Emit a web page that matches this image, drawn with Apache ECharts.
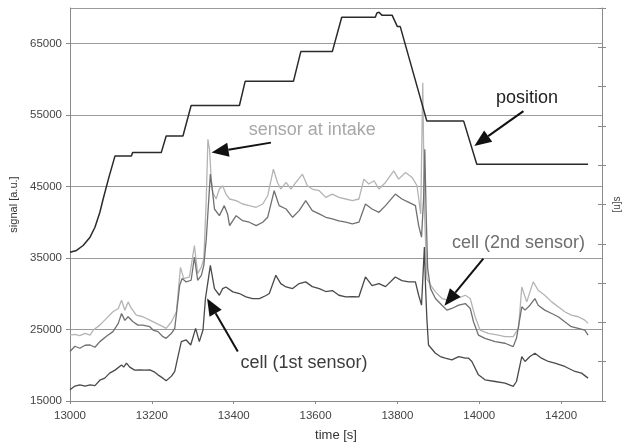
<!DOCTYPE html>
<html>
<head>
<meta charset="utf-8">
<script src="https://cdn.jsdelivr.net/npm/echarts/dist/echarts.min.js"></script>
<style>html,body{margin:0;padding:0;background:#fff}#c{width:630px;height:447px}</style>
</head>
<body>
<div id="c"></div>
<script>
// ---- data (time [s], signal [a.u.]) ----
const positionData = [[13000,35830],[13016,36070],[13032,36760],[13049,37930],[13061,39320],[13073,41410],[13081,43270],[13095,46300],[13110,49300],[13150,49300],[13153,49760],[13223,49760],[13235,52080],[13276,52080],[13296,56350],[13414,56350],[13428,59740],[13546,59740],[13564,63900],[13641,63900],[13664,68700],[13746,68700],[13750,69300],[13755,69400],[13762,69000],[13787,69000],[13800,67400],[13807,67400],[13872,54170],[13962,54170],[13994,48140],[14266,48140]];

const intakeData = [[13000,24230],[13012,24330],[13024,24150],[13037,24470],[13049,24230],[13057,24930],[13073,25620],[13089,26560],[13105,27490],[13118,27950],[13126,29100],[13134,27710],[13142,28870],[13150,27950],[13162,27020],[13178,26790],[13195,26320],[13211,25860],[13227,25400],[13235,25160],[13248,26090],[13260,27490],[13270,33700],[13278,32130],[13292,32360],[13304,36760],[13312,32820],[13321,33760],[13327,34910],[13333,43270],[13337,51620],[13341,50230],[13345,46050],[13349,44190],[13357,43270],[13365,44660],[13373,45120],[13381,43960],[13390,43270],[13406,43040],[13422,42570],[13438,42340],[13455,42110],[13471,42570],[13483,43720],[13497,47440],[13507,45590],[13515,44660],[13528,45590],[13540,44660],[13552,45590],[13568,46750],[13580,45120],[13592,44660],[13609,44430],[13625,43500],[13641,43960],[13657,43500],[13674,43270],[13690,43040],[13706,43270],[13718,46050],[13730,45360],[13743,45820],[13755,44660],[13771,45590],[13791,47210],[13803,46050],[13820,46980],[13836,46290],[13848,45120],[13857,41180],[13862,59550],[13866,42000],[13872,32130],[13881,31200],[13893,30270],[13909,29340],[13925,29100],[13941,29340],[13958,29620],[13966,29800],[13978,29340],[13990,26790],[14002,24930],[14022,24470],[14047,24230],[14063,24000],[14083,24000],[14096,25160],[14104,30960],[14116,28870],[14132,31670],[14144,30500],[14160,29800],[14177,28870],[14193,28180],[14209,27490],[14225,27020],[14242,26790],[14258,26320],[14266,25860]];

const cell2Data = [[13000,21920],[13012,22660],[13024,22380],[13037,22800],[13049,22840],[13061,22520],[13073,23310],[13089,24050],[13105,24710],[13118,25860],[13126,27250],[13134,26280],[13142,26790],[13154,26090],[13166,25620],[13178,25620],[13195,25400],[13203,24930],[13215,24710],[13227,24000],[13235,23770],[13248,24470],[13256,25160],[13268,31200],[13274,32130],[13284,31670],[13296,31900],[13304,35150],[13312,31900],[13321,32590],[13327,33980],[13333,37700],[13343,46750],[13349,43960],[13353,41870],[13365,40940],[13377,42340],[13385,41180],[13390,39550],[13406,40940],[13422,40240],[13438,40020],[13455,39550],[13471,40020],[13483,40710],[13499,44430],[13511,42340],[13528,41870],[13544,40710],[13560,41640],[13576,43040],[13592,41640],[13609,41180],[13625,40710],[13641,40480],[13657,40200],[13674,40020],[13690,39780],[13706,40020],[13722,42570],[13738,41870],[13755,41410],[13771,42340],[13795,43960],[13811,43270],[13828,42800],[13844,42340],[13852,39550],[13859,37930],[13864,43270],[13867,50230],[13870,41870],[13874,33520],[13881,30730],[13893,29340],[13909,28410],[13921,27720],[13933,27950],[13950,28410],[13966,28640],[13978,27950],[13986,26090],[13998,24230],[14014,23770],[14039,23310],[14063,23080],[14083,22610],[14091,23770],[14104,28180],[14112,27720],[14124,28410],[14136,29340],[14144,28410],[14160,27720],[14177,27250],[14193,26790],[14209,26090],[14225,25400],[14242,25160],[14258,24930],[14266,24230]];

const cell1Data = [[13000,16570],[13012,17090],[13024,17270],[13037,17090],[13049,17270],[13061,17160],[13073,17910],[13085,18200],[13097,18900],[13110,19320],[13126,20050],[13131,19740],[13138,20290],[13146,19740],[13158,19320],[13170,19360],[13183,19320],[13195,19360],[13207,19040],[13215,18660],[13227,18200],[13235,17830],[13248,18480],[13256,19140],[13263,20990],[13272,23310],[13284,23540],[13295,22840],[13307,25160],[13316,23310],[13325,24930],[13331,29340],[13343,33980],[13353,30730],[13365,29800],[13373,30730],[13381,30960],[13398,30270],[13414,30040],[13430,29580],[13446,29340],[13463,29340],[13479,29760],[13487,30040],[13503,32590],[13515,31430],[13528,30960],[13544,30730],[13560,31430],[13576,31670],[13592,31010],[13609,30730],[13625,30320],[13641,30460],[13657,29800],[13674,29580],[13690,29620],[13706,29580],[13722,32360],[13738,31150],[13755,31430],[13771,31010],[13795,32360],[13811,31850],[13828,31670],[13844,31670],[13852,29800],[13859,28410],[13866,36540],[13869,30730],[13872,26560],[13876,22840],[13893,21680],[13905,21220],[13917,20990],[13933,20750],[13950,21220],[13966,20990],[13974,20990],[13982,20530],[13998,18660],[14014,17960],[14039,17730],[14063,17510],[14083,17040],[14091,17730],[14104,21220],[14112,20530],[14124,21220],[14136,21680],[14152,20990],[14169,20530],[14185,20290],[14209,19830],[14234,19130],[14250,18900],[14266,18200]];

// annotation texts with anchor points in data space
const labelTexts = ['sensor at intake', 'position', 'cell (2nd sensor)', 'cell (1st sensor)'];
const labelAt   = [[13592,52870],[14117,57470],[14096,37140],[13572,20290]];
const arrowFrom = [[13491,51160],[14108,55560],[14010,34910],[13410,21920]];
const arrowTo   = [[13346,49770],[13988,50690],[13915,28330],[13335,29340]];
const labelColors = ['#a8a8a8','#222222','#6e6e6e','#3c3c3c'];

const FONT = 'Liberation Sans, Arial, sans-serif';
const plain = v => String(v);
const chart = echarts.init(document.getElementById('c'));
const axisGray = '#8a8a8a';
chart.setOption({
  animation: false,
  backgroundColor: '#ffffff',
  grid: {left: 70, right: 26, top: 8, bottom: 44},
  xAxis: {
    type: 'value', min: 13000, max: 14300, interval: 200,
    name: 'time [s]', nameLocation: 'middle', nameGap: 28,
    nameTextStyle: {fontFamily: FONT, fontSize: 13, color: '#333'},
    axisLine: {lineStyle: {color: axisGray}},
    axisTick: {length: 3, lineStyle: {color: axisGray}},
    axisLabel: {showMaxLabel: false, formatter: plain, fontFamily: FONT, fontSize: 11.5, color: '#444', margin: 9},
    splitLine: {show: false}
  },
  yAxis: [{
    type: 'value', min: 15000, max: 70000, interval: 10000,
    name: 'signal [a.u.]', nameLocation: 'middle', nameRotate: 90, nameGap: 39,
    nameTextStyle: {fontFamily: FONT, fontSize: 11, color: '#333'},
    axisLine: {show: true, lineStyle: {color: axisGray}},
    axisTick: {show: true, length: 4, lineStyle: {color: axisGray}},
    axisLabel: {showMaxLabel: false, formatter: plain, fontFamily: FONT, fontSize: 11.5, color: '#444', margin: 8},
    splitLine: {show: true, lineStyle: {color: '#9a9a9a', width: 1}}
  }, {
    type: 'value', position: 'right', min: 0, max: 10, interval: 1,
    name: '[u]s', nameLocation: 'middle', nameRotate: 90, nameGap: 10,
    nameTextStyle: {fontFamily: FONT, fontSize: 10, color: '#444'},
    axisLine: {show: true, lineStyle: {color: axisGray}},
    axisTick: {show: true, length: 4, lineStyle: {color: axisGray}},
    axisLabel: {show: false}, splitLine: {show: false}
  }, {
    type: 'value', position: 'right', min: 0, max: 10, interval: 1,
    axisLine: {show: false},
    axisTick: {show: true, inside: true, length: 4, lineStyle: {color: axisGray}},
    axisLabel: {show: false}, splitLine: {show: false}
  }],
  series: [
    {name: 'sensor at intake', type: 'line', data: intakeData, showSymbol: false, lineStyle: {color: '#b4b4b4', width: 1.3}},
    {name: 'cell (2nd sensor)', type: 'line', data: cell2Data, showSymbol: false, lineStyle: {color: '#707070', width: 1.3}},
    {name: 'cell (1st sensor)', type: 'line', data: cell1Data, showSymbol: false, lineStyle: {color: '#4a4a4a', width: 1.3}},
    {name: 'position', type: 'line', data: positionData, showSymbol: false, lineStyle: {color: '#2a2a2a', width: 1.5}}
  ]
});

function toPx(p) { return chart.convertToPixel({xAxisIndex: 0, yAxisIndex: 0}, p); }
const elements = [];
for (let i = 0; i < labelTexts.length; i++) {
  const a = toPx(labelAt[i]);
  elements.push({type: 'text', x: a[0], y: a[1], z: 100,
    style: {text: labelTexts[i], fill: labelColors[i], font: '18px ' + FONT, align: 'center', verticalAlign: 'middle'}});
  const p0 = toPx(arrowFrom[i]), p1 = toPx(arrowTo[i]);
  const dx = p1[0] - p0[0], dy = p1[1] - p0[1], L = Math.hypot(dx, dy);
  const ux = dx / L, uy = dy / L, hl = 17, hw = 7;
  const b = [p1[0] - ux * hl, p1[1] - uy * hl];
  elements.push({type: 'line', z: 100, shape: {x1: p0[0], y1: p0[1], x2: b[0], y2: b[1]}, style: {stroke: '#111', lineWidth: 2}});
  elements.push({type: 'polygon', z: 100, shape: {points: [p1, [b[0] - uy * hw, b[1] + ux * hw], [b[0] + uy * hw, b[1] - ux * hw]]}, style: {fill: '#111'}});
}
chart.setOption({graphic: elements});
</script>
</body>
</html>
